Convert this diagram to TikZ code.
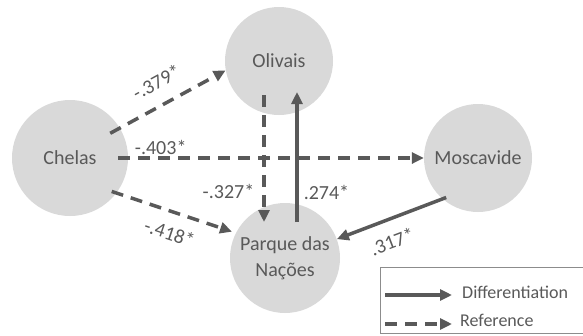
\documentclass[tikz,border=0pt]{standalone}
\usepackage{fontspec}
\setmainfont{Carlito}
\usetikzlibrary{arrows.meta,positioning}

\definecolor{circgray}{HTML}{D9D9D9}
\definecolor{linegray}{HTML}{595959}
\definecolor{boxgray}{HTML}{8C8C8C}

\tikzset{
  region/.style={circle, fill=circgray, minimum size=108pt, inner sep=0pt, text=linegray, font=\fontsize{20}{26}\selectfont, align=center},
  diff/.style={-{Triangle[length=12pt,width=11pt]}, line width=3.5pt, draw=linegray},
  ref/.style={diff, dash pattern=on 12pt off 8pt},
  coef/.style={text=linegray, font=\fontsize{20}{22}\selectfont, inner sep=2pt},
  legtext/.style={text=linegray, font=\fontsize{18}{20}\selectfont, inner sep=0pt, anchor=west},
  legendbox/.style={draw=boxgray, line width=1pt, minimum width=205pt, minimum height=66pt, inner sep=0pt}
}

\begin{document}
\begin{tikzpicture}[x=1pt,y=-1pt]
\useasboundingbox (0,0) rectangle (583,335);

\node[region, minimum size=116pt] (che) at (70,158) {Chelas};
\node[region] (oli) at (279,61) {Olivais};
\node[region] (mos) at (478,158) {Moscavide};
\node[region, minimum size=110pt] (par) at (285,258) {Parque das\\Nações};

\draw[ref, shorten <=-11pt] (che.31) to node[coef, sloped, above=12pt, pos=.45] {-.379*} (oli.190);
\draw[ref, shorten <=-10pt] (che.east) to node[coef, above, pos=.11] {-.403*} (mos.west);
\draw[ref, shorten <=-5pt, shorten >=4pt] (che.-37) to node[coef, sloped, below=10pt, pos=.5] {-.418*} (par.153);
\draw[ref] ([xshift=-15pt,yshift=-34pt]oli.center) to node[coef, left=6pt, pos=.76] {-.327*} ([xshift=-21pt,yshift=36pt]par.center);
\draw[diff] ([xshift=12pt,yshift=36pt]par.center) to node[coef, right=3pt, pos=.23] {.274*} ([xshift=18pt,yshift=-31pt]oli.center);
\draw[diff, shorten <=-4pt] (mos.229) to node[coef, sloped, below=11pt, pos=.55] {.317*} (par.20);

% legend
\node[legendbox] (leg) at (482.5,300) {};
\coordinate (dA) at (385,295);
\coordinate (dB) at (452,295);
\coordinate (rA) at (385,324);
\coordinate (rB) at (452,324);
\draw[diff] (dA) -- (dB);
\draw[ref] (rA) -- (rB);
\node[legtext] (dtxt) at (462,292) {Differentiation};
\node[legtext] (rtxt) at (460,320) {Reference};
\end{tikzpicture}
\end{document}
